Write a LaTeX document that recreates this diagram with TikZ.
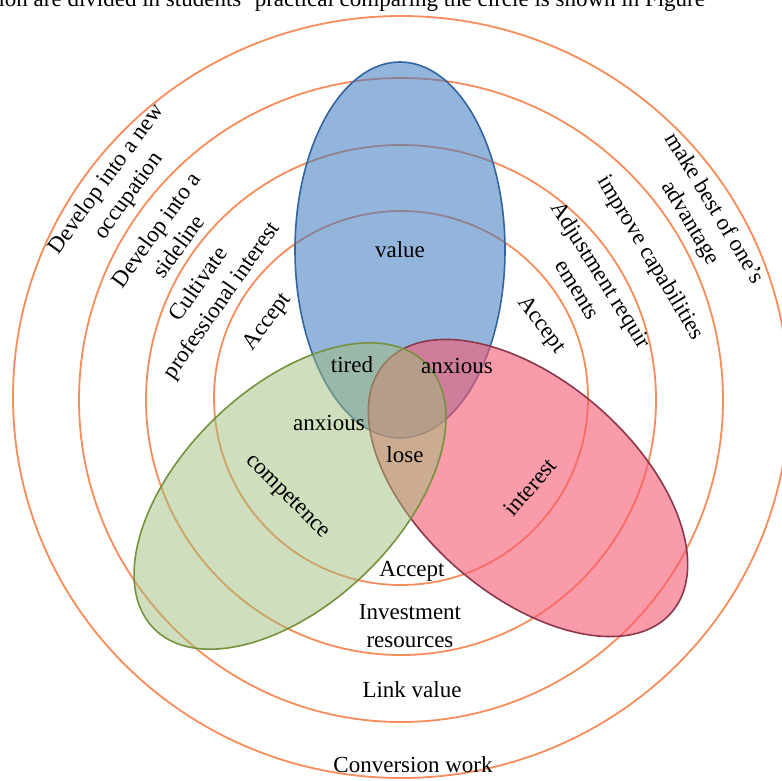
\documentclass[tikz,border=0pt]{standalone}
\usepackage{fontspec}
\setmainfont{Liberation Serif}
\definecolor{ringc}{RGB}{248,140,90}
\definecolor{bluef}{RGB}{60,120,190}
\definecolor{bluee}{RGB}{50,100,160}
\definecolor{redf}{RGB}{247,88,113}
\definecolor{rede}{RGB}{140,55,75}
\definecolor{greenf}{RGB}{159,189,121}
\definecolor{greene}{RGB}{118,146,60}
\begin{document}
\begin{tikzpicture}[x=1pt,y=-1pt,
  ring/.style={draw=ringc, line width=1.8pt},
  lab/.style={font=\fontsize{23}{28}\selectfont, align=center, inner sep=0pt, text=black},
  blob/.style={line width=1.6pt}]
\useasboundingbox (0,0) rectangle (782,780);
% rings
\draw[ring] (401,397) ellipse [x radius=388pt, y radius=381pt];
\draw[ring] (401,400) circle [radius=322pt];
\draw[ring] (401,400) circle [radius=255pt];
\draw[ring] (401,398) circle [radius=187pt];
% value (blue)
\draw[blob, fill=bluef, fill opacity=0.55, draw=bluee] (400,250) ellipse [x radius=105pt, y radius=188pt];
% interest (red)
\begin{scope}[shift={(528,488)}, rotate=-41]
\draw[blob, fill=redf, fill opacity=0.6, draw=rede] (0,0) ellipse [x radius=190pt, y radius=107pt];
\end{scope}
% competence (green)
\begin{scope}[shift={(290,496)}, rotate=44]
\draw[blob, fill=greenf, fill opacity=0.5, draw=greene] (0,0) ellipse [x radius=190pt, y radius=108pt];
\end{scope}
% cut-off caption line at top
\begin{scope}
\clip (0,0) rectangle (782,780);
\node[lab, anchor=base west] (cap) at (-8,6) {tion are divided in students' practical comparing the circle is shown in Figure};
\end{scope}
% inner labels
\node[lab, anchor=base] (value) at (400,257) {value};
\node[lab, anchor=base] (tired) at (352,372) {tired};
\node[lab, anchor=base] (anx1) at (457,373) {anxious};
\node[lab, anchor=base] (anx2) at (329,430) {anxious};
\node[lab, anchor=base] (lose) at (405,462) {lose};
\node[lab, rotate=-45] (comp) at (287,497) {competence};
\node[lab, rotate=49] (inter) at (530,487) {interest};
% bottom labels
\node[lab, anchor=base] (accb) at (412,576) {Accept};
\node[lab, anchor=base] (inv) at (410,647) {Investment\\resources};
\node[lab, anchor=base] (link) at (412,697) {Link value};
\node[lab, anchor=base] (conv) at (413,772) {Conversion work};
% left arc labels
\node[lab, rotate=54] (l1) at (118,188) {Develop into a new\\occupation};
\node[lab, rotate=54] (l2) at (167,238) {Develop into a\\sideline};
\node[lab, rotate=55] (l3) at (211,293) {Cultivate\\professional interest};
\node[lab, rotate=53] (l4) at (268,322) {Accept};
% right arc labels
\node[lab, rotate=-59] (r1) at (702,216) {make best of one's\\advantage};
\node[lab, rotate=-59] (r2) at (650,258) {improve capabilities};
\node[lab, rotate=-58] (r3) at (590,282) {Adjustment requir\\ements};
\node[lab, rotate=-53] (r4) at (541,325) {Accept};
\end{tikzpicture}
\end{document}
